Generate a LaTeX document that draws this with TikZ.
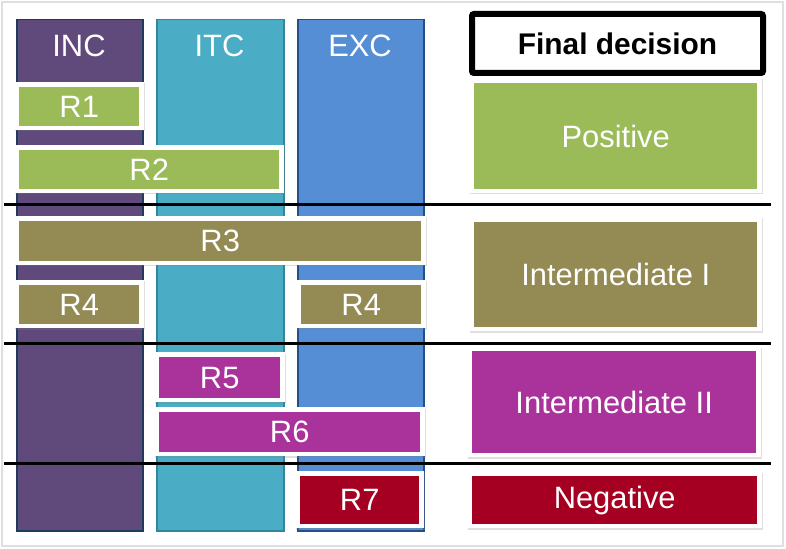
\documentclass[tikz,border=0pt]{standalone}
\usepackage{fontspec}
\setmainfont{Liberation Sans}
\usetikzlibrary{shadows}
\definecolor{incC}{HTML}{604A7B}
\definecolor{incB}{HTML}{1F3A60}
\definecolor{itcC}{HTML}{4BACC6}
\definecolor{itcB}{HTML}{31859C}
\definecolor{excC}{HTML}{558ED5}
\definecolor{excB}{HTML}{254F8A}
\definecolor{grnC}{HTML}{9BBB59}
\definecolor{olvC}{HTML}{948A54}
\definecolor{magC}{HTML}{AA329B}
\definecolor{redC}{HTML}{A50021}
\tikzset{
  rb/.style={inner sep=0pt, text=white, font=\fontsize{31}{36}\selectfont},
  colbox/.style={line width=1.5bp, anchor=north west, inner sep=0pt},
  collabel/.style={text=white, font=\fontsize{31}{36}\selectfont},
  sepline/.style={line width=3bp, black},
  whitebg/.style={fill=white, drop shadow={opacity=0.25, shadow xshift=0.6bp, shadow yshift=-1.5bp}}
}
\newcommand\rbox[7]{%
  \fill[whitebg] (#2-5,#3-5) rectangle (#4+5,#5+4);
  \node[rb, fill=#6, minimum width={(#4-#2)*1bp}, minimum height={(#5-#3)*1bp}, anchor=north west] (#1) at (#2,#3) {#7};
}
\begin{document}
\begin{tikzpicture}[x=1bp,y=-1bp]
\useasboundingbox (0,0) rectangle (786,549);
\fill[white] (0,0) rectangle (786,549);
\draw[gray!25, line width=1.5bp] (2,2) rectangle (783,546);
% columns
\node[colbox, fill=incC, draw=incB, minimum width=126bp, minimum height=511bp] (inc) at (16,19) {};
\node[colbox, fill=itcC, draw=itcB, minimum width=127bp, minimum height=511bp] (itc) at (156,19) {};
\node[colbox, fill=excC, draw=excB, minimum width=126bp, minimum height=511bp] (exc) at (297,19) {};
\node[collabel] (incl) at (79,46) {INC};
\node[collabel] (itcl) at (219.5,46) {ITC};
\node[collabel] (excl) at (360,46) {EXC};
% final decision
\node[draw=black, line width=6bp, rounded corners=2bp, fill=white, minimum width=291bp, minimum height=59bp, anchor=north west, inner sep=0pt, font=\bfseries\fontsize{30}{35}\selectfont] (fd) at (469,11) {Final decision};
% rule boxes
\rbox{r1}{19}{87}{139}{126}{grnC}{R1}
\rbox{r2}{19}{150}{279}{189}{grnC}{R2}
\rbox{r3}{19}{221}{421}{261}{olvC}{R3}
\rbox{r4a}{19}{285}{139}{324}{olvC}{R4}
\rbox{r4b}{301}{285}{421}{324}{olvC}{R4}
\rbox{r5}{159}{357}{280}{398}{magC}{R5}
\rbox{r6}{159}{412}{420}{452}{magC}{R6}
\rbox{r7}{300}{476}{419}{524}{redC}{R7}
% decisions
\rbox{pos}{474}{83}{757}{189}{grnC}{Positive}
\rbox{int1}{474}{222}{757}{327}{olvC}{Intermediate I}
\rbox{int2}{472}{351}{756}{453}{magC}{Intermediate II}
\rbox{neg}{472}{476}{757}{524}{redC}{Negative}
% separators
\coordinate (l1a) at (4,205); \coordinate (l1b) at (771,205);
\coordinate (l2a) at (4,343); \coordinate (l2b) at (771,343);
\coordinate (l3a) at (4,463); \coordinate (l3b) at (771,463);
\draw[sepline] (l1a) -- (l1b);
\draw[sepline] (l2a) -- (l2b);
\draw[sepline] (l3a) -- (l3b);
\end{tikzpicture}
\end{document}
